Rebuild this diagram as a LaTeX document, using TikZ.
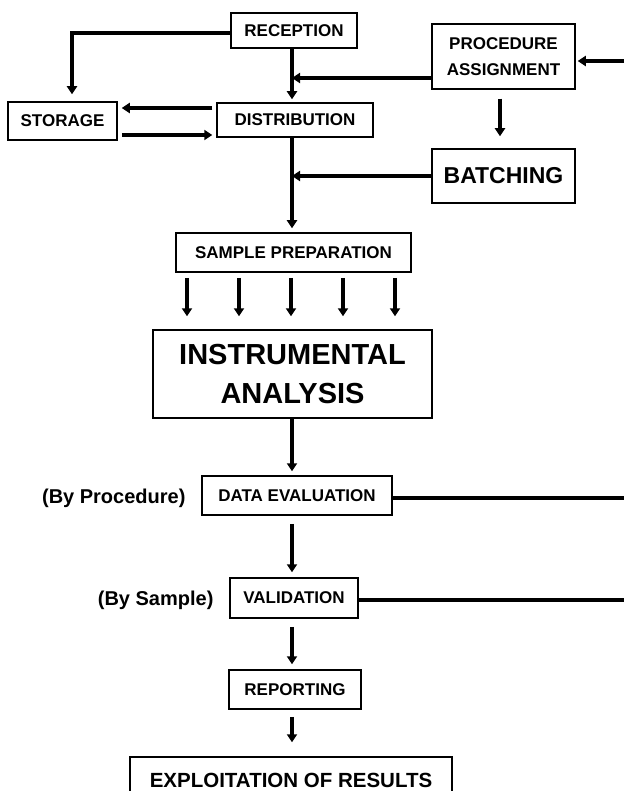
\documentclass[tikz,border=0pt]{standalone}
\usepackage{fontspec}
\setmainfont{Liberation Sans}
\usetikzlibrary{arrows.meta}

\begin{document}
\begin{tikzpicture}[x=1pt,y=-1pt,
  box/.style={draw, line width=1.5pt, inner sep=0pt, align=center,
    font=\fontsize{17}{26}\selectfont\bfseries},
  flow/.style={line width=3.5pt, -{Triangle[width=10pt,length=8pt]}},
  link/.style={line width=3.5pt},
  side/.style={font=\fontsize{20}{24}\selectfont\bfseries}]

\useasboundingbox (0,0) rectangle (624,791);

% boxes
\node[box, minimum width=126pt, minimum height=35pt] (rec) at (294,30.5) {RECEPTION};
\node[box, minimum width=143pt, minimum height=65pt] (proc) at (503.5,56.5) {PROCEDURE\\ASSIGNMENT};
\node[box, minimum width=109pt, minimum height=38pt] (stor) at (62.5,121) {STORAGE};
\node[box, minimum width=156pt, minimum height=34pt] (dist) at (295,120) {DISTRIBUTION};
\node[box, minimum width=143pt, minimum height=54pt, font=\fontsize{23}{26}\selectfont\bfseries] (batch) at (503.5,176) {BATCHING};
\node[box, minimum width=235pt, minimum height=39pt] (prep) at (293.5,252.5) {SAMPLE PREPARATION};
\node[box, minimum width=279pt, minimum height=88pt, font=\fontsize{29}{39}\selectfont\bfseries] (instr) at (292.5,374) {INSTRUMENTAL\\ANALYSIS};
\node[box, minimum width=190pt, minimum height=39pt] (eval) at (297,495.5) {DATA EVALUATION};
\node[box, minimum width=128pt, minimum height=40pt] (valid) at (294,598) {VALIDATION};
\node[box, minimum width=132pt, minimum height=39pt] (report) at (295,689.5) {REPORTING};
\node[box, minimum width=322pt, minimum height=46pt, font=\fontsize{20.5}{24}\selectfont\bfseries] (exploit) at (291,780) {EXPLOITATION OF RESULTS};

\node[side, anchor=east] (byproc) at (189,498) {(By Procedure)};
\node[side, anchor=east] (bysamp) at (217,600) {(By Sample)};

\coordinate (ax) at (292,0);
\coordinate (sx) at (72,0);
\coordinate (inlet) at (624,61);
\coordinate (outeval) at (624,498);
\coordinate (outvalid) at (624,600);

% main line
\draw[flow, shorten >=3pt] (rec.south -| ax) -- (dist.north -| ax);
\draw[flow, shorten >=4pt] (dist.south -| ax) -- (prep.north -| ax);
\draw[flow, shorten >=4pt] (instr.south -| ax) -- (eval.north -| ax);
\draw[flow, shorten <=8pt, shorten >=5pt] (eval.south -| ax) -- (valid.north -| ax);
\draw[flow, shorten <=8pt, shorten >=5pt] (valid.south -| ax) -- (report.north -| ax);
\draw[flow, shorten <=7pt, shorten >=14pt] (report.south -| ax) -- (exploit.north -| ax);

% into the main line
\draw[flow] ([yshift=-21.5pt]proc.west) -- ([yshift=-21.5pt]proc.west -| ax);
\draw[flow] (batch.west) -- (batch.west -| ax);
\draw[flow, shorten <=9pt, shorten >=12pt] (proc.south -| 500,0) -- (batch.north -| 500,0);
\draw[flow, shorten >=2pt] (inlet) -- (inlet -| proc.east);

% storage
\draw[flow, shorten >=7pt] ([yshift=-2.5pt]rec.west) -| (stor.north -| sx);
\draw[flow, shorten <=4pt, shorten >=4pt] (dist.west |- 0,108) -- (stor.east |- 0,108);
\draw[flow, shorten <=4pt, shorten >=4pt] (stor.east |- 0,135) -- (dist.west |- 0,135);

% sample preparation
\foreach \x in {187,239,291,343,395}
  \draw[flow, shorten <=5pt, shorten >=13pt] (prep.south -| \x,0) -- (instr.north -| \x,0);

% outputs
\draw[link] (eval.east |- outeval) -- (outeval);
\draw[link] (valid.east |- outvalid) -- (outvalid);

\end{tikzpicture}
\end{document}
